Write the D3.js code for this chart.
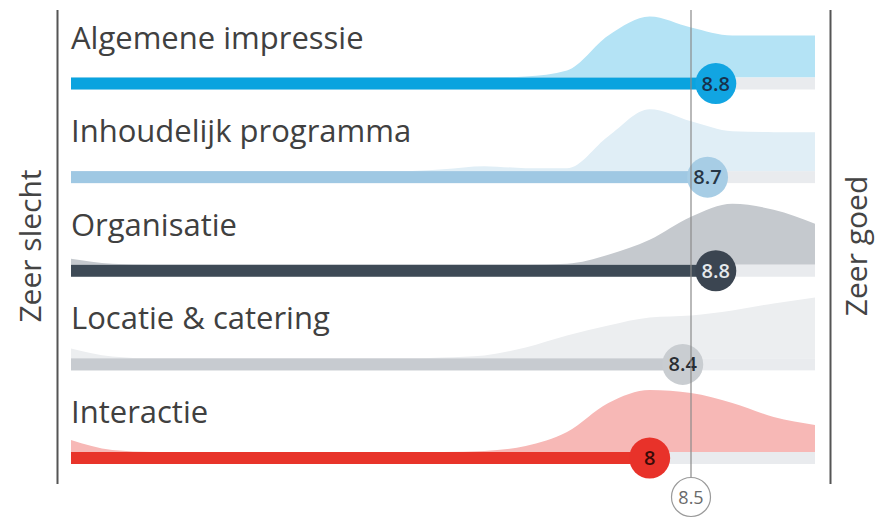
<!DOCTYPE html>
<html>
<head>
<meta charset="utf-8">
<script src="https://cdn.jsdelivr.net/npm/d3@7/dist/d3.min.js"></script>
<style>
  html, body { margin: 0; padding: 0; background: #ffffff; }
  svg { display: block; }
</style>
</head>
<body>
<svg id="chart" width="877" height="518"></svg>
<script>
// ---------- DATA ----------
const categories = ["Algemene impressie", "Inhoudelijk programma", "Organisatie", "Locatie & catering", "Interactie"];
const scores = [8.8, 8.7, 8.8, 8.4, 8];
const scoreLabels = ["8.8", "8.7", "8.8", "8.4", "8"];
const benchmark = 8.5;
const benchmarkLabel = "8.5";
const leftLabel = "Zeer slecht";
const rightLabel = "Zeer goed";

// score grid on which the answer distributions are given
const densityGrid = [1, 1.5, 2, 2.5, 3, 3.5, 4, 4.5, 5, 5.5, 6, 6.5, 7, 7.5, 8, 8.5, 9, 9.5, 10];
// relative distribution of answers
const densityAlgemene     = [0, 0, 0, 0, 0, 0, 0, 0, 0, 0, 0, 1, 7, 42, 61, 50, 42, 42, 42];
const densityInhoudelijk  = [0, 0, 0, 0, 0, 0, 0, 0, 0, 2, 5, 3, 3, 35, 62, 50, 40, 39, 39];
const densityOrganisatie  = [6, 1, 0, 0, 0, 0, 0, 0, 0, 0, 0, 0, 1, 10, 25, 48, 61, 55, 41];
const densityLocatie      = [10, 2, 0, 0, 0, 0, 0, 0, 0, 1, 3, 11, 23, 33, 41, 43, 48, 55, 61];
const densityInteractie   = [12, 2, 0, 0, 0, 0, 0, 0, 0, 0, 1, 6, 20, 49, 62, 59, 49, 35, 27];
const densities = [densityAlgemene, densityInhoudelijk, densityOrganisatie, densityLocatie, densityInteractie];

// ---------- STYLE ----------
const barColors     = ["#0aa3df", "#9fc8e3", "#3e4a56", "#c7cbd0", "#e8342a"];
const areaColors    = ["#b4e3f5", "#e0eef6", "#c5c9ce", "#eceef0", "#f7b8b6"];
const circleColors  = ["#11a5e2", "#a7cde5", "#3b4551", "#c9cdd1", "#e8322a"];
const circleText    = ["#17324f", "#263645", "#e6e9ec", "#2a2e33", "#3a0b08"];
const trackColor = "#e9ebee";
const textColor = "#404040";
const font = "'Open Sans', 'Noto Sans', sans-serif";

// ---------- LAYOUT ----------
const svg = d3.select("#chart");
const x = d3.scaleLinear().domain([1, 10]).range([71, 815]);
const y = d3.scalePoint().domain(categories).range([83.5, 458]);
const h = d3.scaleLinear().domain([0, 62]).range([0, 62]);
const barH = 12;
const r = 20.5;

// side frame lines
svg.append("line").attr("x1", 57.5).attr("x2", 57.5).attr("y1", 10).attr("y2", 484)
  .attr("stroke", "#555").attr("stroke-width", 2);
svg.append("line").attr("x1", 830.5).attr("x2", 830.5).attr("y1", 10).attr("y2", 484)
  .attr("stroke", "#555").attr("stroke-width", 2);

svg.append("text").attr("transform", "translate(41,246) rotate(-90)")
  .attr("text-anchor", "middle").attr("font-family", font).attr("font-size", 30)
  .attr("fill", "#444").text(leftLabel);
svg.append("text").attr("transform", "translate(867,246) rotate(-90)")
  .attr("text-anchor", "middle").attr("font-family", font).attr("font-size", 30)
  .attr("fill", "#444").text(rightLabel);

const rows = svg.selectAll("g.row").data(categories).enter().append("g").attr("class", "row");

// density areas
rows.append("path")
  .attr("d", (c, i) => {
    const base = y(c) - barH / 2;
    return d3.area()
      .x((d, k) => x(densityGrid[k]))
      .y0(base)
      .y1(d => base - h(d))
      .curve(d3.curveMonotoneX)(densities[i]);
  })
  .attr("fill", (c, i) => areaColors[i]);

// track
rows.append("rect")
  .attr("x", x(1)).attr("width", x(10) - x(1))
  .attr("y", c => y(c) - barH / 2).attr("height", barH)
  .attr("fill", trackColor);

// bars
rows.append("rect")
  .attr("x", x(1)).attr("width", (c, i) => x(scores[i]) - x(1))
  .attr("y", c => y(c) - barH / 2).attr("height", barH)
  .attr("fill", (c, i) => barColors[i]);

// labels
rows.append("text")
  .attr("x", x(1)).attr("y", c => y(c) - 35)
  .attr("font-family", font).attr("font-size", 31).attr("fill", textColor)
  .text(c => c);

// benchmark line
svg.append("line").attr("x1", x(benchmark)).attr("x2", x(benchmark))
  .attr("y1", 10).attr("y2", 477).attr("stroke", "#8a8a8a").attr("stroke-width", 1.2);

// circles
rows.append("circle")
  .attr("cx", (c, i) => x(scores[i])).attr("cy", c => y(c)).attr("r", r)
  .attr("fill", (c, i) => circleColors[i]);
rows.append("text")
  .attr("x", (c, i) => x(scores[i])).attr("y", c => y(c) + 7)
  .attr("text-anchor", "middle").attr("font-family", font).attr("font-weight", 600)
  .attr("font-size", 20).attr("fill", (c, i) => circleText[i])
  .text((c, i) => scoreLabels[i]);

// benchmark marker
svg.append("circle").attr("cx", x(benchmark)).attr("cy", 497).attr("r", 19.5)
  .attr("fill", "#fff").attr("stroke", "#9a9a9a").attr("stroke-width", 1.2);
svg.append("text").attr("x", x(benchmark)).attr("y", 504)
  .attr("text-anchor", "middle").attr("font-family", font).attr("font-size", 18)
  .attr("fill", "#6a6a6a").text(benchmarkLabel);
</script>
</body>
</html>
